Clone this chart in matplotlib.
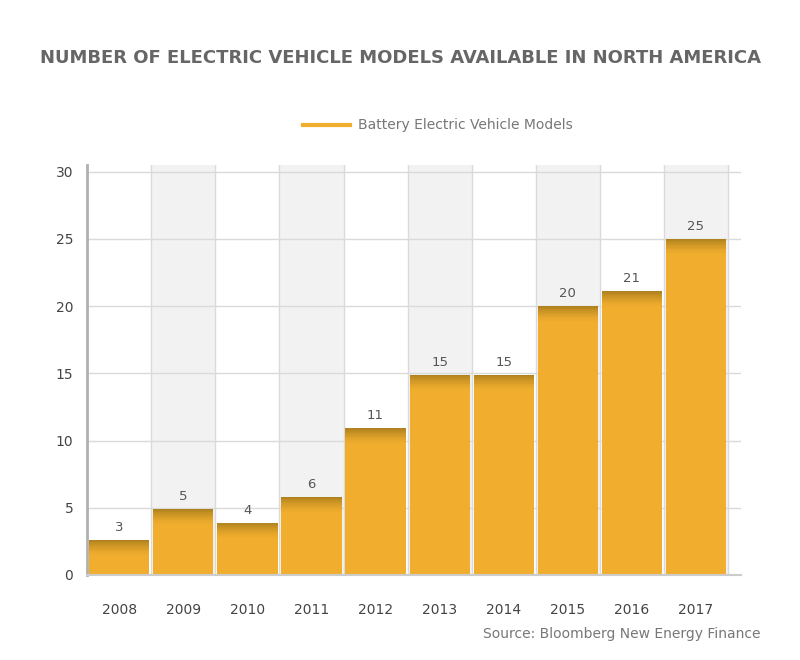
import numpy as np
import matplotlib.pyplot as plt
from matplotlib.colors import to_rgb

years = ['2008', '2009', '2010', '2011', '2012', '2013', '2014', '2015', '2016', '2017']
models = [2.6, 4.9, 3.9, 5.8, 10.9, 14.9, 14.9, 20.0, 21.1, 25.0]
labels = ['3', '5', '4', '6', '11', '15', '15', '20', '21', '25']
yticks = [0, 5, 10, 15, 20, 25, 30]

bar_color = '#f1ae2e'
top_color = '#b0821e'

fig = plt.figure(figsize=(8, 6.6), dpi=100)
ax = fig.add_axes([0.109, 0.1288, 0.817, 0.6212])

x = np.arange(len(years))

# alternating shaded columns
for i in x:
    if i % 2 == 1:
        ax.axvspan(i - 0.5, i + 0.5, color='#f2f2f2', zorder=0, lw=0)

ax.set_axisbelow(True)
ax.yaxis.grid(True, color='#dadada', lw=1)
for b in np.arange(0.5, 10, 1.0):
    ax.axvline(b, color='#dadada', lw=1, zorder=0.5)

ax.bar(x, models, width=0.94, color=bar_color, lw=0, zorder=2)

# darker fade at the top of each bar, drawn as thin stacked slices
n = 20
fade = 1.2
c0 = np.array(to_rgb(bar_color))
c1 = np.array(to_rgb(top_color))
h = np.array(models)
for k in range(n):
    t = (k + 1) / n
    col = c0 + (c1 - c0) * t ** 1.5
    ax.bar(x, fade / n, bottom=h - fade + k * fade / n, width=0.94,
           color=col, lw=0, zorder=3)

for xi, v, lab in zip(x, models, labels):
    ax.text(xi, v + 0.45, lab, ha='center', va='bottom', fontsize=9.5, color='#555555')

ax.set_xlim(-0.5, 9.7)
ax.set_ylim(0, 30.5)
ax.set_xticks(x)
ax.set_xticklabels(years)
ax.set_yticks(yticks)
ax.tick_params(axis='both', length=0, labelsize=10, colors='#444444')
ax.tick_params(axis='x', pad=20)
ax.tick_params(axis='y', pad=10)

for s in ['top', 'right']:
    ax.spines[s].set_visible(False)
ax.spines['left'].set_color('#b0b0b0')
ax.spines['left'].set_linewidth(2)
ax.spines['bottom'].set_color('#cccccc')
ax.spines['bottom'].set_linewidth(1.5)

title = fig.text(0.5, 0.912, 'NUMBER OF ELECTRIC VEHICLE MODELS AVAILABLE IN NORTH AMERICA',
                 ha='center', va='center', fontsize=20, fontweight='bold', color='#666666')
# shrink the title so it spans the same width as the original
r = fig.canvas.get_renderer()
w = title.get_window_extent(r).width
title.set_fontsize(20 * 724 / w)

# legend
fig.lines.append(plt.Line2D([0.379, 0.4375], [0.81, 0.81], transform=fig.transFigure,
                            color='#f1ae2e', lw=3))
fig.text(0.448, 0.81, 'Battery Electric Vehicle Models', ha='left', va='center',
         fontsize=10, color='#777777')

fig.text(0.951, 0.04, 'Source: Bloomberg New Energy Finance', ha='right', va='center',
         fontsize=10, color='#777777')

fig.savefig('out.png', dpi=100)
